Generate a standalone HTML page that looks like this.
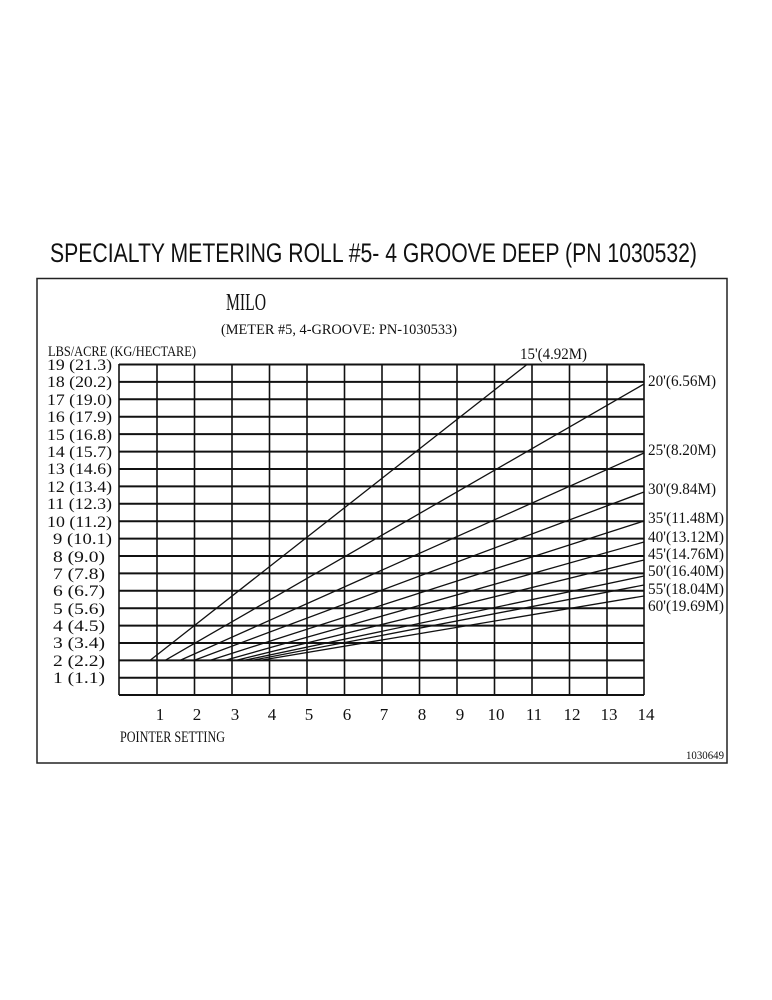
<!DOCTYPE html>
<html><head><meta charset="utf-8"><style>
html,body{margin:0;padding:0;background:#fff;}
svg{display:block;}
text{font-family:"Liberation Serif",serif;fill:#111;}
</style></head><body>
<svg width="772" height="1000" viewBox="0 0 772 1000" xmlns="http://www.w3.org/2000/svg">
<text x="50" y="262" style="font-family:'Liberation Sans',sans-serif;font-size:27px" textLength="647" lengthAdjust="spacingAndGlyphs">SPECIALTY METERING ROLL  #5- 4 GROOVE DEEP (PN  1030532)</text>
<rect x="37" y="278.5" width="690" height="484.5" fill="none" stroke="#222" stroke-width="1.5"/>
<text x="226" y="310" font-size="24" textLength="40" lengthAdjust="spacingAndGlyphs">MILO</text>
<text x="221" y="334" font-size="15" textLength="236" lengthAdjust="spacingAndGlyphs">(METER #5, 4-GROOVE: PN-1030533)</text>
<text x="48" y="356" font-size="15" textLength="148" lengthAdjust="spacingAndGlyphs">LBS/ACRE (KG/HECTARE)</text>
<g font-size="16">
<text x="47" y="370" textLength="65" lengthAdjust="spacingAndGlyphs">19 (21.3)</text>
<text x="47" y="387" textLength="65" lengthAdjust="spacingAndGlyphs">18 (20.2)</text>
<text x="47" y="405" textLength="65" lengthAdjust="spacingAndGlyphs">17 (19.0)</text>
<text x="47" y="422" textLength="65" lengthAdjust="spacingAndGlyphs">16 (17.9)</text>
<text x="47" y="440" textLength="65" lengthAdjust="spacingAndGlyphs">15 (16.8)</text>
<text x="47" y="457" textLength="65" lengthAdjust="spacingAndGlyphs">14 (15.7)</text>
<text x="47" y="474" textLength="65" lengthAdjust="spacingAndGlyphs">13 (14.6)</text>
<text x="47" y="492" textLength="65" lengthAdjust="spacingAndGlyphs">12 (13.4)</text>
<text x="47" y="509" textLength="65" lengthAdjust="spacingAndGlyphs">11 (12.3)</text>
<text x="47" y="527" textLength="65" lengthAdjust="spacingAndGlyphs">10 (11.2)</text>
<text x="53" y="544" textLength="59" lengthAdjust="spacingAndGlyphs">9 (10.1)</text>
<text x="53" y="562" textLength="52" lengthAdjust="spacingAndGlyphs">8 (9.0)</text>
<text x="53" y="579" textLength="52" lengthAdjust="spacingAndGlyphs">7 (7.8)</text>
<text x="53" y="596" textLength="52" lengthAdjust="spacingAndGlyphs">6 (6.7)</text>
<text x="53" y="614" textLength="52" lengthAdjust="spacingAndGlyphs">5 (5.6)</text>
<text x="53" y="631" textLength="52" lengthAdjust="spacingAndGlyphs">4 (4.5)</text>
<text x="53" y="648" textLength="52" lengthAdjust="spacingAndGlyphs">3 (3.4)</text>
<text x="53" y="666" textLength="52" lengthAdjust="spacingAndGlyphs">2 (2.2)</text>
<text x="53" y="683" textLength="52" lengthAdjust="spacingAndGlyphs">1 (1.1)</text>
</g>
<g stroke="#111" stroke-width="2">
<line x1="119" y1="364.5" x2="644" y2="364.5"/><line x1="119" y1="381.9" x2="644" y2="381.9"/><line x1="119" y1="399.3" x2="644" y2="399.3"/><line x1="119" y1="416.7" x2="644" y2="416.7"/><line x1="119" y1="434.1" x2="644" y2="434.1"/><line x1="119" y1="451.6" x2="644" y2="451.6"/><line x1="119" y1="469" x2="644" y2="469"/><line x1="119" y1="486.4" x2="644" y2="486.4"/><line x1="119" y1="503.8" x2="644" y2="503.8"/><line x1="119" y1="521.2" x2="644" y2="521.2"/><line x1="119" y1="538.6" x2="644" y2="538.6"/><line x1="119" y1="556" x2="644" y2="556"/><line x1="119" y1="573.4" x2="644" y2="573.4"/><line x1="119" y1="590.8" x2="644" y2="590.8"/><line x1="119" y1="608.2" x2="644" y2="608.2"/><line x1="119" y1="625.6" x2="644" y2="625.6"/><line x1="119" y1="643" x2="644" y2="643"/><line x1="119" y1="660.4" x2="644" y2="660.4"/><line x1="119" y1="677.8" x2="644" y2="677.8"/><line x1="119" y1="695" x2="644" y2="695"/>
</g>
<g stroke="#111" stroke-width="1.6">
<line x1="119" y1="364" x2="119" y2="695"/><line x1="157" y1="364" x2="157" y2="695"/><line x1="194.5" y1="364" x2="194.5" y2="695"/><line x1="232" y1="364" x2="232" y2="695"/><line x1="269.5" y1="364" x2="269.5" y2="695"/><line x1="307" y1="364" x2="307" y2="695"/><line x1="344.5" y1="364" x2="344.5" y2="695"/><line x1="382" y1="364" x2="382" y2="695"/><line x1="419.5" y1="364" x2="419.5" y2="695"/><line x1="457" y1="364" x2="457" y2="695"/><line x1="494.5" y1="364" x2="494.5" y2="695"/><line x1="532" y1="364" x2="532" y2="695"/><line x1="569.5" y1="364" x2="569.5" y2="695"/><line x1="607" y1="364" x2="607" y2="695"/><line x1="644" y1="364" x2="644" y2="695"/>
</g>
<g stroke="#111" stroke-width="1.3">
<line x1="150" y1="660.4" x2="527" y2="364.5"/>
<line x1="165" y1="660.4" x2="644" y2="384"/>
<line x1="180" y1="660.4" x2="644" y2="453"/>
<line x1="194" y1="660.4" x2="644" y2="492"/>
<line x1="210" y1="660.4" x2="644" y2="521"/>
<line x1="225" y1="660.4" x2="644" y2="542"/>
<line x1="236" y1="660.4" x2="644" y2="560"/>
<line x1="244" y1="660.4" x2="644" y2="576"/>
<line x1="252" y1="660.4" x2="644" y2="585"/>
<line x1="260" y1="660.4" x2="644" y2="596"/>
</g>
<g font-size="16">
<text x="520" y="359" textLength="67" lengthAdjust="spacingAndGlyphs">15'(4.92M)</text>
<text x="648" y="386" textLength="68" lengthAdjust="spacingAndGlyphs">20'(6.56M)</text>
<text x="648" y="455" textLength="68" lengthAdjust="spacingAndGlyphs">25'(8.20M)</text>
<text x="648" y="494" textLength="68" lengthAdjust="spacingAndGlyphs">30'(9.84M)</text>
<text x="648" y="523" textLength="76" lengthAdjust="spacingAndGlyphs">35'(11.48M)</text>
<text x="648" y="542" textLength="76" lengthAdjust="spacingAndGlyphs">40'(13.12M)</text>
<text x="648" y="559" textLength="76" lengthAdjust="spacingAndGlyphs">45'(14.76M)</text>
<text x="648" y="576" textLength="76" lengthAdjust="spacingAndGlyphs">50'(16.40M)</text>
<text x="648" y="594" textLength="76" lengthAdjust="spacingAndGlyphs">55'(18.04M)</text>
<text x="648" y="611" textLength="76" lengthAdjust="spacingAndGlyphs">60'(19.69M)</text>
</g>
<g font-size="17" text-anchor="middle">
<text x="160" y="720">1</text><text x="197" y="720">2</text><text x="235" y="720">3</text><text x="272" y="720">4</text><text x="309" y="720">5</text><text x="347" y="720">6</text><text x="384" y="720">7</text><text x="422" y="720">8</text><text x="460" y="720">9</text><text x="496" y="720">10</text><text x="534" y="720">11</text><text x="572" y="720">12</text><text x="609" y="720">13</text><text x="646" y="720">14</text>
</g>
<text x="120" y="742" font-size="16" textLength="105" lengthAdjust="spacingAndGlyphs">POINTER SETTING</text>
<text x="686" y="759" font-size="12" textLength="38" lengthAdjust="spacingAndGlyphs">1030649</text>
</svg>
</body></html>
